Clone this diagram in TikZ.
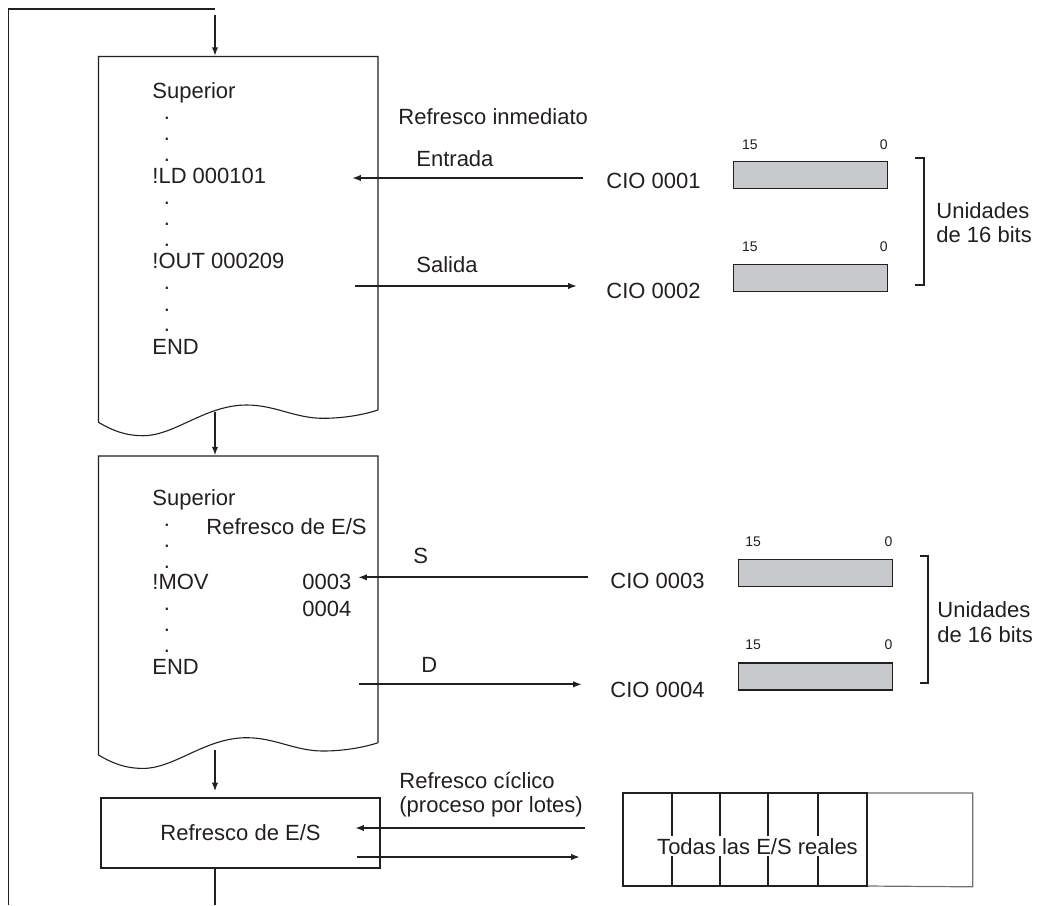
\documentclass[tikz,border=0pt]{standalone}
\usepackage{fontspec}
\setmainfont{Liberation Sans}
\usetikzlibrary{arrows.meta}
\definecolor{ink}{HTML}{231F20}
\definecolor{barfill}{HTML}{C8C9CB}
\definecolor{lightline}{HTML}{707070}
\begin{document}
\begin{tikzpicture}[x=0.5pt,y=-0.5pt,
  txt/.style={font=\fontsize{11}{13}\selectfont, text=ink, inner sep=0pt, anchor=base west},
  dotc/.style={font=\fontsize{11}{13}\selectfont, text=ink, inner sep=0pt, anchor=base},
  small/.style={font=\fontsize{7}{8}\selectfont, text=ink, inner sep=0pt},
  outline/.style={draw=ink, line width=0.55pt},
  arr/.style={draw=ink, line width=1pt, -{Latex[length=4.4pt,width=3.2pt]}},
  flow/.style={draw=ink, line width=1pt, -{Latex[length=4.4pt,width=3.2pt]}},
  bar/.style={draw=ink, line width=0.6pt, fill=barfill, inner sep=0pt, anchor=north west, minimum width=77pt, minimum height=13.5pt},
  brk/.style={draw=ink, line width=1.1pt},
]
\useasboundingbox (0,0) rectangle (1037,905);

% ---- program blocks (frames) ----
\node[inner sep=0pt, minimum width=139.75pt, minimum height=177.75pt] (b1) at (238.25,234.25) {};
\node[inner sep=0pt, minimum width=139.75pt, minimum height=147pt] (b2) at (238.25,603) {};
\node[outline, inner sep=0pt, minimum width=139.5pt, minimum height=35pt,
      font=\fontsize{11}{13}\selectfont, text=ink] (b3) at (240.5,833) {Refresco de E/S};

% document outline 1
\draw[outline] (378,410) -- (378,56.5) -- (98.5,56.5) -- (98.5,422.3)
  .. controls (112,430.3) and (125,435.7) .. (143,435.7)
  .. controls (175,435.7) and (205,405) .. (246.7,405)
  .. controls (275,405) and (295,418.3) .. (323,418.3)
  .. controls (345,418.3) and (365,414.3) .. (378,410);
% document outline 2
\draw[outline] (378,742.7) -- (378,456) -- (98.5,456) -- (98.5,755)
  .. controls (112,763) and (125,768.4) .. (143,768.4)
  .. controls (175,768.4) and (205,737.7) .. (246.7,737.7)
  .. controls (275,737.7) and (295,751) .. (323,751)
  .. controls (345,751) and (365,747) .. (378,742.7);

% ---- loop ----
\coordinate (loopA) at (215,905);
\coordinate (loopB) at (8.5,905);
\coordinate (loopC) at (8.5,9);
\coordinate (loopD) at (215,9);
\draw[outline] (loopB) -- (loopC) -- (loopD);
\draw[flow] ([yshift=-3]loopD) -- (b1.north -| loopD);
\draw[flow] (b1.south -| loopD) -- (b2.north -| loopD);
\draw[flow] (b2.south -| loopD) -- ([yshift=3]b3.north -| loopD);
\draw[outline] (b3.south -| loopD) -- (loopA);

% ---- text block 1 ----
\node[txt] (sup1) at (152,98) {Superior};
\foreach \y [count=\i] in {119.5,140.5,161.5,204,225.5,246.5,289,311,331.5}
  \node[dotc] (da\i) at (167,\y) {.};
\node[txt] (ld) at (152,183) {!LD 000101};
\node[txt] (outi) at (152,268) {!OUT 000209};
\node[txt] (end1) at (152,354) {END};

% ---- text block 2 ----
\node[txt] (sup2) at (152,505) {Superior};
\foreach \y [count=\i] in {526.5,547,568,610.5,631,652}
  \node[dotc] (db\i) at (167,\y) {.};
\node[txt] (rio) at (206,534) {Refresco de E/S};
\node[txt] (mov) at (152,589.5) {!MOV};
\node[txt] (n3) at (302,589.5) {0003};
\node[txt] (n4) at (302,616) {0004};
\node[txt] (end2) at (152,674) {END};

% ---- immediate refresh ----
\node[txt] (ri) at (398,124) {Refresco inmediato};
\node[txt] (ent) at (416,166) {Entrada};
\node[txt] (cio1) at (606,188) {CIO 0001};
\node[txt] (sal) at (416,272) {Salida};
\node[txt] (cio2) at (606,298) {CIO 0002};
\coordinate (a1s) at (583,178);
\coordinate (a1e) at (352,178);
\coordinate (a2s) at (355,286);
\coordinate (a2e) at (577,286);
\draw[arr] (a1s) -- (a1e);
\draw[arr] (a2s) -- (a2e);

\node[bar] (r1) at (733,160.5) {};
\node[bar] (r2) at (733,263.5) {};
\node[small, anchor=base west] (r1a) at (741.7,149.3) {15};
\node[small, anchor=base east] (r1b) at (888,149.3) {0};
\node[small, anchor=base west] (r2a) at (741.7,251.7) {15};
\node[small, anchor=base east] (r2b) at (888,251.7) {0};
\draw[brk] (915,158) -- (924,158) -- (924,285) -- (915,285);
\node[txt] (u1) at (936,218) {Unidades};
\node[txt] (u2) at (936,242.7) {de 16 bits};

% ---- MOV refresh ----
\node[txt] (S) at (413,563) {S};
\node[txt] (cio3) at (610,588) {CIO 0003};
\node[txt] (D) at (421,672) {D};
\node[txt] (cio4) at (610,697) {CIO 0004};
\coordinate (a3s) at (588,577.3);
\coordinate (a3e) at (358,577.3);
\coordinate (a4s) at (359,684.3);
\coordinate (a4e) at (582,684.3);
\draw[arr] (a3s) -- (a3e);
\draw[arr] (a4s) -- (a4e);

\node[bar] (r3) at (738,559) {};
\node[bar] (r4) at (738,662.3) {};
\node[small, anchor=base west] (r3a) at (745,546.7) {15};
\node[small, anchor=base east] (r3b) at (892.7,546.7) {0};
\node[small, anchor=base west] (r4a) at (745,649.3) {15};
\node[small, anchor=base east] (r4b) at (892.7,649.3) {0};
\draw[brk] (920,556) -- (928,556) -- (928,683) -- (920,683);
\node[txt] (u3) at (937,617) {Unidades};
\node[txt] (u4) at (937,642) {de 16 bits};

% ---- cyclic refresh ----
\node[txt] (rc) at (399,788) {Refresco cíclico};
\node[txt] (pl) at (399,812) {(proceso por lotes)};
\coordinate (a5s) at (585,828);
\coordinate (a5e) at (355,828);
\coordinate (a6s) at (357,857);
\coordinate (a6e) at (580,857);
\draw[arr] (a5s) -- (a5e);
\draw[arr] (a6s) -- (a6e);

\node[inner sep=0pt, anchor=north west, minimum width=174.5pt, minimum height=46.5pt] (io) at (623,793) {};
\draw[lightline, line width=0.6pt] (867,793) -- (io.north east) -- (io.south east) -- (867,886);
\draw[draw=ink, line width=0.9pt] (io.north west) rectangle (867,886);
\foreach \x in {672,720,768,818}
  \draw[draw=ink, line width=0.9pt] (\x,793) -- (\x,886);
\node[txt, anchor=base, fill=white, inner sep=1pt] (all) at (757.5,854) {Todas las E/S reales};
\end{tikzpicture}
\end{document}
